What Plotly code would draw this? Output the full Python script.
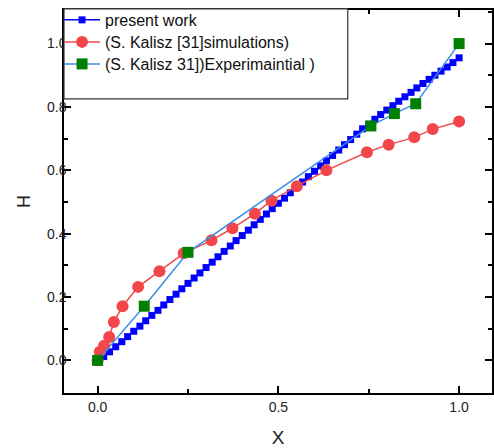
import plotly.graph_objects as go

# present work: dimensionless X vs H
present_x = [0.000, 0.017, 0.033, 0.050, 0.067, 0.083, 0.100, 0.117, 0.133, 0.150,
             0.167, 0.183, 0.200, 0.217, 0.233, 0.250, 0.267, 0.283, 0.300, 0.317,
             0.333, 0.350, 0.367, 0.383, 0.400, 0.417, 0.433, 0.450, 0.467, 0.483,
             0.500, 0.517, 0.533, 0.550, 0.567, 0.583, 0.600, 0.617, 0.633, 0.650,
             0.667, 0.683, 0.700, 0.717, 0.733, 0.750, 0.767, 0.783, 0.800, 0.817,
             0.833, 0.850, 0.867, 0.883, 0.900, 0.917, 0.933, 0.950, 0.967, 0.983,
             1.000]
present_h = [0.000, 0.012, 0.027, 0.043, 0.059, 0.075, 0.092, 0.108, 0.125, 0.142,
             0.158, 0.175, 0.192, 0.209, 0.226, 0.243, 0.260, 0.276, 0.293, 0.310,
             0.327, 0.344, 0.361, 0.378, 0.394, 0.411, 0.428, 0.445, 0.462, 0.479,
             0.496, 0.512, 0.529, 0.546, 0.563, 0.580, 0.597, 0.614, 0.630, 0.647,
             0.664, 0.681, 0.697, 0.714, 0.731, 0.745, 0.761, 0.776, 0.790, 0.804,
             0.818, 0.832, 0.846, 0.860, 0.874, 0.887, 0.900, 0.913, 0.926, 0.940,
             0.955]

# Kalisz [31] simulations
sim_x = [0.000, 0.006, 0.018, 0.032, 0.045, 0.069, 0.112, 0.171, 0.238, 0.315,
         0.373, 0.435, 0.481, 0.551, 0.633, 0.745, 0.805, 0.876, 0.927, 1.000]
sim_h = [0.000, 0.027, 0.046, 0.074, 0.121, 0.171, 0.232, 0.281, 0.338, 0.379,
         0.417, 0.463, 0.504, 0.550, 0.600, 0.657, 0.681, 0.704, 0.730, 0.754]

# Kalisz [31] experiments
exp_x = [0.000, 0.129, 0.250, 0.756, 0.821, 0.880, 1.000]
exp_h = [0.000, 0.171, 0.341, 0.740, 0.779, 0.810, 1.000]

x_ticks = [0.0, 0.5, 1.0]
y_ticks = [0.0, 0.2, 0.4, 0.6, 0.8, 1.0]

FONT = "Arial, Liberation Sans, sans-serif"

fig = go.Figure()
fig.add_trace(go.Scatter(
    x=present_x, y=present_h, mode="lines+markers", name="present work",
    line=dict(color="#0000ff", width=1.5),
    marker=dict(symbol="square", size=7, color="#0000ff", line=dict(width=0)),
    legend="legend",
))
fig.add_trace(go.Scatter(
    x=sim_x, y=sim_h, mode="lines+markers", name="(S. Kalisz [31]simulations)",
    line=dict(color="#f04a4a", width=1.5),
    marker=dict(symbol="circle", size=12, color="#f2464a", line=dict(width=0)),
    legend="legend2",
))
fig.add_trace(go.Scatter(
    x=exp_x, y=exp_h, mode="lines+markers", name="(S. Kalisz 31])Experimaintial )",
    line=dict(color="#3c8ce6", width=1.5),
    marker=dict(symbol="square", size=11, color="#008000", line=dict(width=0)),
    legend="legend3",
))

axis_common = dict(
    showline=True, linecolor="black", linewidth=1.5, mirror="ticks",
    ticks="inside", ticklen=7, tickwidth=1.5, tickcolor="black",
    showgrid=False, zeroline=False,
    tickfont=dict(family=FONT, size=14, color="#222222"),
)

fig.update_xaxes(
    range=[-0.093, 1.091], tickvals=x_ticks, ticktext=["0.0", "0.5", "1.0"],
    minor=dict(ticks="inside", ticklen=4, tickwidth=1.5, tickcolor="black",
               tickvals=[0.25, 0.75]),
    title=dict(text="X", font=dict(family=FONT, size=19, color="#222222"), standoff=18),
    **axis_common,
)
fig.update_yaxes(
    range=[-0.103, 1.106], tickvals=y_ticks,
    ticktext=["0.0", "0.2", "0.4", "0.6", "0.8", "1.0"],
    minor=dict(ticks="inside", ticklen=4, tickwidth=1.5, tickcolor="black",
               tickvals=[-0.1, 0.1, 0.3, 0.5, 0.7, 0.9, 1.1]),
    ticklabelstandoff=-7,
    title=dict(text="H", font=dict(family=FONT, size=18, color="#222222"), standoff=12),
    **axis_common,
)

# legend frame
fig.add_shape(type="rect", xref="paper", yref="paper", x0=0, x1=0.663, y0=0.768, y1=1.003,
              line=dict(color="#333333", width=1.2), fillcolor="white", layer="above")

legend_style = dict(x=-0.0116, xanchor="left", yanchor="middle",
                    bgcolor="rgba(0,0,0,0)", borderwidth=0,
                    font=dict(family=FONT, size=16, color="#111111"),
                    itemwidth=36)

fig.update_layout(
    width=494, height=448,
    margin=dict(l=64, r=0, t=10, b=55),
    paper_bgcolor="white", plot_bgcolor="white",
    showlegend=True,
    legend=dict(y=0.974, **legend_style),
    legend2=dict(y=0.9165, **legend_style),
    legend3=dict(y=0.859, **legend_style),
)

fig.write_html("out.html")
